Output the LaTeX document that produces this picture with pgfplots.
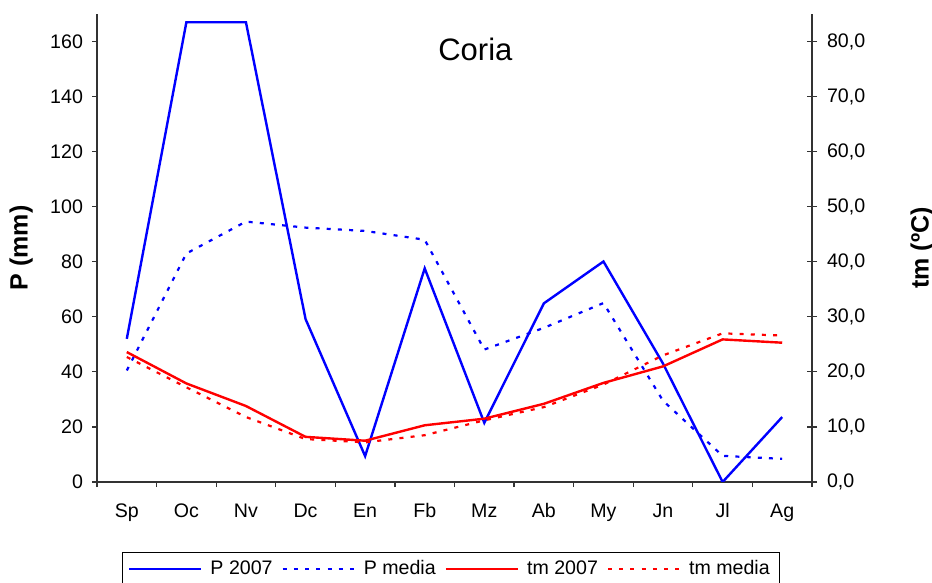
\documentclass[border=0pt]{standalone}
\usepackage{pgfplots}
\pgfplotsset{compat=1.18}
\usepackage{fontspec}
\setmainfont{Liberation Sans}
\definecolor{xblue}{RGB}{0,0,255}
\definecolor{xred}{RGB}{255,0,0}
\tikzset{dotsty/.style={dash pattern=on 2pt off 3.6pt}}
\begin{document}
\begin{tikzpicture}
\pgfplotsset{
  every axis/.append style={scale only axis, width=357.5pt, height=234pt,
    xmin=-0.5, xmax=11.5, at={(0,0)}, anchor=south west,
    /pgf/number format/assume math mode=true,
    axis line style={black!80, line width=0.6pt},
    tick style={black!80, line width=0.6pt},
    tick label style={font=\fontsize{9.8}{11}\selectfont},
  },
}
\begin{axis}[
  ymin=0, ymax=170,
  axis x line*=bottom, axis y line*=left,
  xtick={-0.5,0.5,1.5,2.5,3.5,4.5,5.5,6.5,7.5,8.5,9.5,10.5,11.5},
  x tick label as interval,
  xticklabels={Sp,Oc,Nv,Dc,En,Fb,Mz,Ab,My,Jn,Jl,Ag},
  xticklabel style={anchor=base, yshift=-15pt},
  yticklabel style={xshift=-1pt},
  ytick={0,20,...,160},
  tick align=outside, major tick length=2.5pt,
  ylabel={\textbf{P (mm)}},
  ylabel style={at={(axis description cs:-0.106,0.5)}, anchor=center, font=\fontsize{12.5}{14}\selectfont},
  legend style={draw=black, line width=0.5pt, at={(axis description cs:0.495,-0.1496)}, anchor=north,
    font=\fontsize{9.8}{12}\selectfont, legend columns=4,
    /tikz/every odd column/.append style={column sep=2pt},
    /tikz/every even column/.append style={column sep=2.5pt}},
  legend image code/.code={\draw[#1] (0pt,0pt) -- (36pt,0pt);},
]
\addplot[xblue, line width=1.2pt] coordinates {(0,52) (1,167) (2,167) (3,59.2) (4,9.4) (5,77.6) (6,21.5) (7,64.9) (8,80.1) (9,43) (10,0) (11,23.6)};
\addlegendentry{P 2007}
\addplot[xblue, line width=1.1pt, dotsty] coordinates {(0,40.5) (1,83) (2,94.6) (3,92.4) (4,91.2) (5,88) (6,48.1) (7,56) (8,65) (9,29.5) (10,9.5) (11,8.4)};
\addlegendentry{P media}
\addlegendimage{xred, line width=1.2pt}
\addlegendentry{tm 2007}
\addlegendimage{xred, line width=1.1pt, dotsty}
\addlegendentry{tm media}
\node[font=\fontsize{15.5}{18}\selectfont] at (axis cs:5.85,157) {Coria};
\end{axis}
\begin{axis}[
  ymin=0, ymax=85,
  axis y line*=right, axis x line=none,
  ytick={0,10,...,80},
  tick align=center, major tick length=5pt,
  yticklabel style={xshift=1.5pt, /pgf/number format/.cd, fixed, fixed zerofill, precision=1, use comma},
  ylabel={\textbf{tm (ºC)}},
  ylabel style={at={(axis description cs:1.154,0.5)}, anchor=center, font=\fontsize{12.5}{14}\selectfont},
]
\addplot[xred, line width=1.2pt] coordinates {(0,23.6) (1,17.9) (2,13.8) (3,8.2) (4,7.5) (5,10.3) (6,11.5) (7,14.2) (8,18) (9,21) (10,25.9) (11,25.3)};
\addplot[xred, line width=1.1pt, dotsty] coordinates {(0,22.7) (1,17.2) (2,11.8) (3,7.8) (4,7.2) (5,8.5) (6,11.2) (7,13.6) (8,17.7) (9,23) (10,27) (11,26.6)};
\end{axis}
\pgfresetboundingbox
\useasboundingbox (-48.5pt,-50.5pt) rectangle (417.5pt,241pt);
\end{tikzpicture}
\end{document}
